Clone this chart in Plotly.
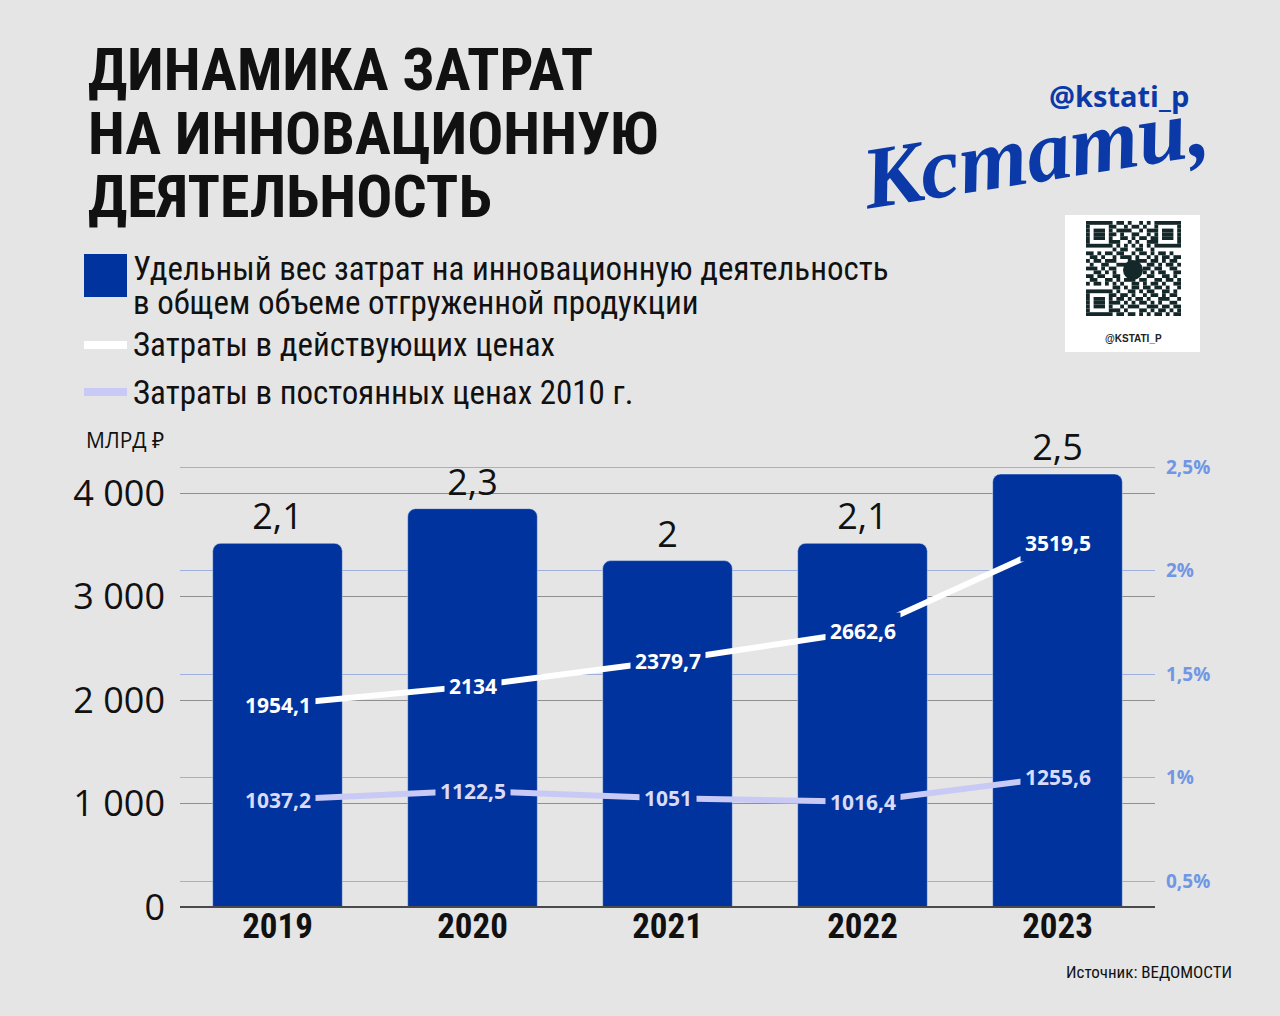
import plotly.graph_objects as go

# ---------------- data ----------------
years = ["2019", "2020", "2021", "2022", "2023"]
share_pct = [2.1, 2.3, 2.0, 2.1, 2.5]                       # bars, %
cost_current = [1954.1, 2134.0, 2379.7, 2662.6, 3519.5]     # млрд ₽
cost_const2010 = [1037.2, 1122.5, 1051.0, 1016.4, 1255.6]   # млрд ₽
left_ticks = [0, 1000, 2000, 3000, 4000]
left_tick_text = ["0", "1 000", "2 000", "3 000", "4 000"]
right_ticks = [0.5, 1.0, 1.5, 2.0, 2.5]
right_tick_text = ["0,5%", "1%", "1,5%", "2%", "2,5%"]

# ---------------- styles ----------------
BG = "#E5E5E5"
BAR = "#01339E"
WHITE_LINE = "#FFFFFF"
LAV_LINE = "#C9C9F6"
LAV_TEXT = "#DADAF9"
RIGHT_TICK = "#7096E4"
LOGO = "#0B3AA8"
F_COND = "Liberation Sans Narrow, Roboto Condensed, Roboto, sans-serif"
F_MAIN = "Open Sans, Noto Sans, sans-serif"

W, H = 1280, 1016
ML, MR, MT, MB = 180, 125, 460, 109
PW, PH = W - ML - MR, H - MT - MB


def px(x):
    return (x - ML) / PW


def py(y):
    return (H - MB - y) / PH


def fmt(v):
    return f"{v:g}".replace(".", ",")


fig = go.Figure()

# bars on the (hidden) main axis -> bottom layer
fig.add_trace(go.Bar(
    x=years, y=share_pct, yaxis="y", marker_color=BAR, width=0.665,
    text=[fmt(v) for v in share_pct], textposition="outside",
    textfont=dict(family=F_MAIN, size=36, color="#111111"),
    cliponaxis=False, hoverinfo="skip", showlegend=False,
))
# lines on the visible money axis (overlay -> drawn above bars)
fig.add_trace(go.Scatter(
    x=years, y=cost_current, mode="lines", yaxis="y2",
    line=dict(color=WHITE_LINE, width=6), hoverinfo="skip", showlegend=False,
))
fig.add_trace(go.Scatter(
    x=years, y=cost_const2010, mode="lines", yaxis="y2",
    line=dict(color=LAV_LINE, width=6), hoverinfo="skip", showlegend=False,
))
# carrier for the right percent axis
fig.add_trace(go.Scatter(
    x=[years[0]], y=[right_ticks[0]], yaxis="y3", mode="markers",
    marker=dict(opacity=0), hoverinfo="skip", showlegend=False,
))

ann = []
for i, v in enumerate(cost_current):
    ann.append(dict(x=i, y=v, xref="x", yref="y2", text=f"<b>{fmt(v)}</b>",
                    showarrow=False, bgcolor=BAR, borderpad=4,
                    font=dict(family=F_MAIN, size=21, color="#FFFFFF")))
for i, v in enumerate(cost_const2010):
    ann.append(dict(x=i, y=v, xref="x", yref="y2", text=f"<b>{fmt(v)}</b>",
                    showarrow=False, bgcolor=BAR, borderpad=4,
                    font=dict(family=F_MAIN, size=21, color=LAV_TEXT)))


def text(x, y, s, size, color="#111111", family=F_COND, xanchor="left", bold=False, angle=0, italic=False):
    ann.append(dict(x=px(x), y=py(y), xref="paper", yref="paper", text=s,
                    showarrow=False, xanchor=xanchor, yanchor="middle", textangle=angle,
                    font=dict(family=family, size=size, color=color,
                              weight="bold" if bold else "normal",
                              style="italic" if italic else "normal")))


# title
text(86, 70, "ДИНАМИКА ЗАТРАТ", 60, bold=True)
text(86, 133, "НА ИННОВАЦИОННУЮ", 60, bold=True)
text(86, 196, "ДЕЯТЕЛЬНОСТЬ", 60, bold=True)

# legend texts
text(131, 268, "Удельный вес затрат на инновационную деятельность", 33)
text(131, 302, "в общем объеме отгруженной продукции", 33)
text(131, 345, "Затраты в действующих ценах", 33)
text(131, 392, "Затраты в постоянных ценах 2010 г.", 33)

text(84, 440, "МЛРД ₽", 21, family=F_MAIN)
text(1234, 972, "Источник: ВЕДОМОСТИ", 17, xanchor="right")

# logo
text(1191, 95, "@kstati_p", 29, color=LOGO, family=F_MAIN, xanchor="right", bold=True)
text(1034, 152, "Кстати,", 88, color=LOGO, family="Liberation Serif, DejaVu Serif, serif",
     xanchor="center", bold=True, italic=True, angle=-9)
text(1133, 338, "@KSTATI_P", 10, color="#222222", family="Liberation Sans, Arial, sans-serif",
     xanchor="center", bold=True)

shapes = []


def rect(x0, y0, x1, y1, color, line_w=0, line_c=None):
    shapes.append(dict(type="rect", xref="paper", yref="paper",
                       x0=px(x0), x1=px(x1), y0=py(y1), y1=py(y0),
                       fillcolor=color, line=dict(width=line_w, color=line_c or color),
                       layer="above"))


# legend markers
rect(84, 254, 127, 297, BAR)
shapes.append(dict(type="line", xref="paper", yref="paper", x0=px(84), x1=px(127),
                   y0=py(345), y1=py(345), line=dict(color=WHITE_LINE, width=8)))
shapes.append(dict(type="line", xref="paper", yref="paper", x0=px(84), x1=px(127),
                   y0=py(392), y1=py(392), line=dict(color=LAV_LINE, width=8)))

# baseline
shapes.append(dict(type="line", xref="paper", yref="paper", x0=0, x1=1, y0=0, y1=0,
                   line=dict(color="#4a4a4a", width=2), layer="above"))

# QR card (decorative)
rect(1065, 215, 1200, 352, "#FFFFFF")
qr_rows = [
    "1111111" + "01101001010" + "1111111",
    "1000001" + "10010110100" + "1000001",
    "1011101" + "01111001011" + "1011101",
    "1011101" + "10100110010" + "1011101",
    "1011101" + "00110101101" + "1011101",
    "1000001" + "11001010011" + "1000001",
    "1111111" + "01010101010" + "1111111",
    "0000000" + "10110011001" + "0000000",
    "1101011011001011010110100",
    "0110100101110100101011011",
    "1011011100010111011010110",
    "0100110011101000110101101",
    "1110101100000001101100110",
    "0011010100000001010110011",
    "1101100110000000110011010",
    "0110011010111011001101101",
    "1011010101001101011010011",
    "0000000" + "110101101101101001",
    "1111111" + "010011010110011010",
    "1000001" + "101101001011010110",
    "1011101" + "011010110100111001",
    "1011101" + "110101011010100110",
    "1011101" + "001011100111011011",
    "1000001" + "110100011010110101",
    "1111111" + "011011010101101011",
]
qx0, qy0, m = 1086.0, 221.0, 3.8
for r, row in enumerate(qr_rows):
    row = row[:25].ljust(25, "0")
    c = 0
    while c < 25:
        if row[c] == "1":
            s = c
            while c < 25 and row[c] == "1":
                c += 1
            rect(qx0 + s * m, qy0 + r * m, qx0 + c * m, qy0 + (r + 1) * m, "#14282A")
        else:
            c += 1
shapes.append(dict(type="circle", xref="paper", yref="paper",
                   x0=px(1123), x1=px(1143), y0=py(280), y1=py(260),
                   fillcolor="#14282A", line=dict(width=0), layer="above"))

fig.update_layout(
    width=W, height=H,
    margin=dict(l=ML, r=MR, t=MT, b=MB, pad=0),
    paper_bgcolor=BG, plot_bgcolor=BG,
    barcornerradius=8,
    separators=", ",
    annotations=ann, shapes=shapes,
    xaxis=dict(type="category", categoryorder="array", categoryarray=years,
               range=[-0.5, 4.5], showgrid=False, showline=False, ticks="",
               tickfont=dict(family=F_COND, size=35, color="#111111", weight="bold"),
               ticklabelstandoff=-5),
    yaxis=dict(range=[0, PH / 173.2], visible=False, showgrid=False, zeroline=False),
    yaxis2=dict(overlaying="y", side="left", range=[0, PH / 103.5 * 1000],
                tickvals=left_ticks, ticktext=left_tick_text,
                showgrid=True, gridcolor="#8f8f8f", gridwidth=1, zeroline=False,
                showline=False, ticks="", ticklabelstandoff=14,
                tickfont=dict(family=F_MAIN, size=36, color="#111111")),
    yaxis3=dict(overlaying="y", side="right", range=[0.5 - 26 / 207, 0.5 - 26 / 207 + PH / 207],
                tickvals=right_ticks, ticktext=right_tick_text,
                showgrid=True, gridcolor="#9DB0DE", gridwidth=1, zeroline=False,
                showline=False, ticks="", ticklabelstandoff=10,
                tickfont=dict(family=F_MAIN, size=19, color=RIGHT_TICK, weight="bold")),
)

fig.write_html("out.html", config={"displayModeBar": False},
               post_script="document.body.style.margin='0';document.body.style.background='#E5E5E5';")
